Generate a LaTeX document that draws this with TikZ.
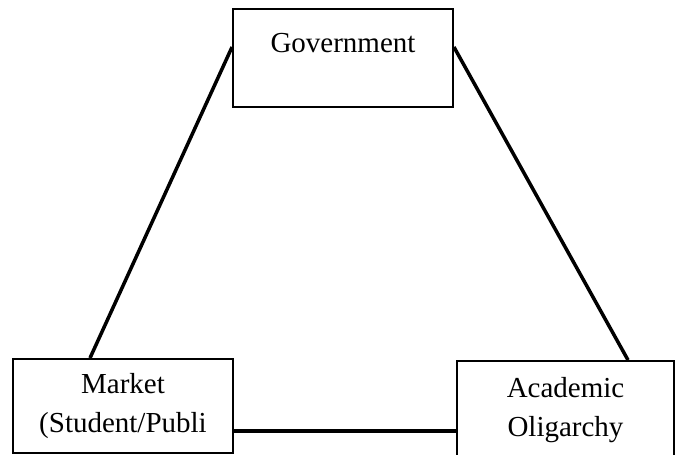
\documentclass[tikz,border=0pt]{standalone}
\usepackage{fontspec}
\setmainfont{Liberation Serif}
\begin{document}
\begin{tikzpicture}[x=0.02cm,y=-0.02cm]

    \tikzset{
      actor/.style={
        draw,
        line width=1.1pt,
        inner sep=0pt,
        align=center,
        font=\fontsize{16.5}{22}\selectfont,
      },
      tie/.style={
        line width=2pt,
      },
    }
    \useasboundingbox (0,0) rectangle (681,455);
    \clip (0,0) rectangle (681,455);
	\node[actor,minimum width=4.4cm,minimum height=1.96cm] (gov) at (343,58) {};
	\node[anchor=center,font=\fontsize{16.5}{22}\selectfont] (govtxt) at (343,43) {Government};
	\node[actor,minimum width=4.4cm,minimum height=1.88cm] (market) at (123,406) {Market\\(Student/Publi};
	\node[actor,minimum width=4.34cm,minimum height=1.96cm] (acad) at (565.5,410) {Academic\\Oligarchy};
	\draw[tie] ([yshift=0.22cm]gov.west)--([xshift=-0.66cm]market.north);
	\draw[tie] ([yshift=0.22cm]gov.east)--([xshift=1.25cm]acad.north);
	\draw[tie] ([yshift=-0.5cm]market.east)--([yshift=-0.5cm]market.east -| acad.west);

\end{tikzpicture}
\end{document}
